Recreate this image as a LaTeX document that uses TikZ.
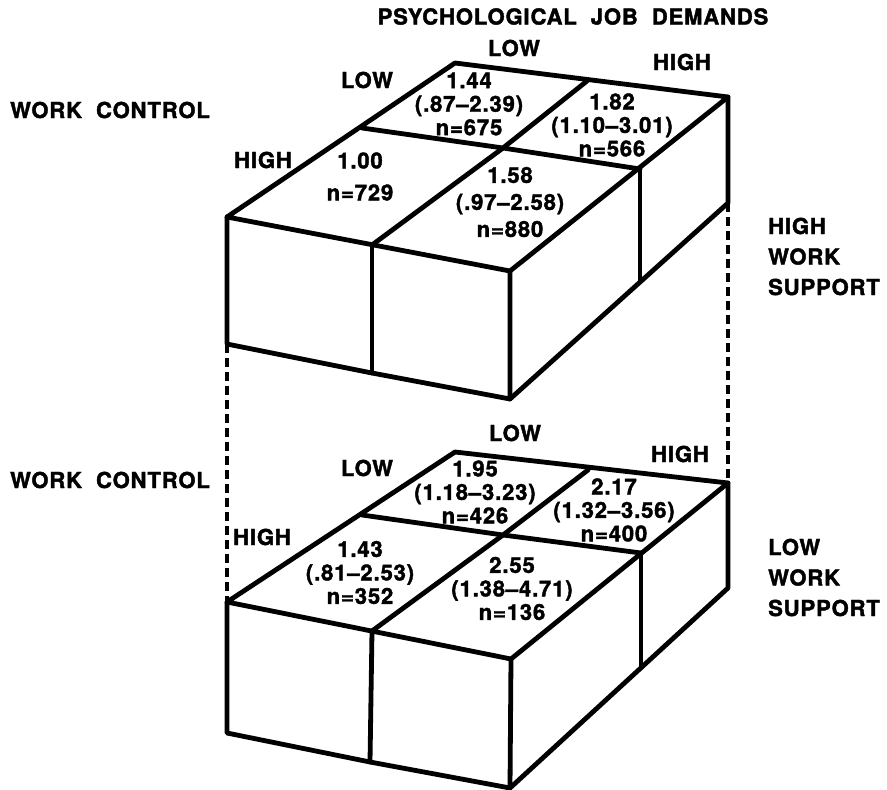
\documentclass[tikz,border=0pt]{standalone}
\usepackage{fontspec}
\setmainfont{TeX Gyre Heros}[LetterSpace=4,BoldFeatures={FakeBold=1.8}]
\tikzset{
  boxline/.style={line width=4.8pt,line join=round,line cap=round},
  joinline/.style={line width=4pt,dash pattern=on 9pt off 5pt},
  lab/.style={font=\bfseries\fontsize{22}{23.5}\selectfont,inner sep=0pt},
  cell/.style={lab,align=center},
  side/.style={lab,align=left,anchor=west,font=\bfseries\fontsize{22}{30.5}\selectfont},
}

\begin{document}
\begin{tikzpicture}[x=1pt,y=-1pt]
  \useasboundingbox (0,0) rectangle (887,790);

  % upper block (high work support)
  \coordinate (u-bl) at (455,63);
  \coordinate (u-bm) at (587,81);
  \coordinate (u-br) at (728,97);
  \coordinate (u-ml) at (362,128);
  \coordinate (u-mc) at (503,148);
  \coordinate (u-mr) at (640,169);
  \coordinate (u-fl) at (227,217);
  \coordinate (u-fm) at (372,245);
  \coordinate (u-fr) at (510,271);
  \coordinate (u-flb) at (227,344);
  \coordinate (u-fmb) at (372,373);
  \coordinate (u-frb) at (510,399);
  \coordinate (u-mrb) at (640,280);
  \coordinate (u-brb) at (728,203);

  % lower block (low work support)
  \coordinate (l-bl) at (455,452);
  \coordinate (l-bm) at (588,470);
  \coordinate (l-br) at (728,483);
  \coordinate (l-ml) at (362,515);
  \coordinate (l-mc) at (503,535);
  \coordinate (l-mr) at (641,553);
  \coordinate (l-fl) at (227,602);
  \coordinate (l-fm) at (372,631);
  \coordinate (l-fr) at (511,659);
  \coordinate (l-flb) at (227,733);
  \coordinate (l-fmb) at (370,762);
  \coordinate (l-frb) at (510,788);
  \coordinate (l-mrb) at (641,668);
  \coordinate (l-brb) at (728,588);

  \foreach \b in {u,l} {
    \draw[boxline] (\b-fl) -- (\b-bl) -- (\b-br) -- (\b-fr) -- cycle;
    \draw[boxline] (\b-ml) -- (\b-mc) -- (\b-mr);
    \draw[boxline] (\b-bm) -- (\b-mc) -- (\b-fm);
    \draw[boxline] (\b-fl) -- (\b-flb) -- (\b-fmb) -- (\b-frb) -- (\b-fr);
    \draw[boxline] (\b-fm) -- (\b-fmb);
    \draw[boxline] (\b-frb) -- (\b-brb) -- (\b-br);
    \draw[boxline] (\b-mr) -- (\b-mrb);
  }

  % dashed links between the blocks
  \draw[joinline] (u-flb) -- (l-fl);
  \draw[joinline] (u-brb) -- (l-br);

  % axis labels
  \node[lab] (title) at (573,16.5) {PSYCHOLOGICAL\ \ JOB\ \ DEMANDS};
  \node[lab] (u-dlow) at (514,48) {LOW};
  \node[lab] (u-dhigh) at (682,62) {HIGH};
  \node[lab] (u-clow) at (367,80) {LOW};
  \node[lab] (u-chigh) at (263,160) {HIGH};
  \node[lab,anchor=west] (u-wc) at (10,110) {WORK\ \ CONTROL};
  \node[side] (u-ws) at (768,256.5) {HIGH\\WORK\\SUPPORT};

  \node[lab] (l-dlow) at (515,433) {LOW};
  \node[lab] (l-dhigh) at (680,454) {HIGH};
  \node[lab] (l-clow) at (367,468) {LOW};
  \node[lab] (l-chigh) at (262,537) {HIGH};
  \node[lab,anchor=west] (l-wc) at (10,480) {WORK\ \ CONTROL};
  \node[side] (l-ws) at (768,577.5) {LOW\\WORK\\SUPPORT};

  % odds ratios per cell
  \foreach \nm/\x/\y/\txt in {
      u-c1/469/104/{1.44\\(.87–2.39)\\n=675},
      u-c2/612/125/{1.82\\(1.10–3.01)\\n=566},
      u-c3/360/176.5/{1.00\\[8.5pt]n=729},
      u-c4/510/202/{1.58\\[3.5pt](.97–2.58)\\[3.5pt]n=880},
      l-c1/475/492/{1.95\\(1.18–3.23)\\n=426},
      l-c2/614/510/{2.17\\(1.32–3.56)\\n=400},
      l-c3/360/572.5/{1.43\\(.81–2.53)\\n=352},
      l-c4/512/588.5/{2.55\\(1.38–4.71)\\n=136}} {
    \node[cell] (\nm) at (\x,\y) {\txt};
  }
\end{tikzpicture}
\end{document}
